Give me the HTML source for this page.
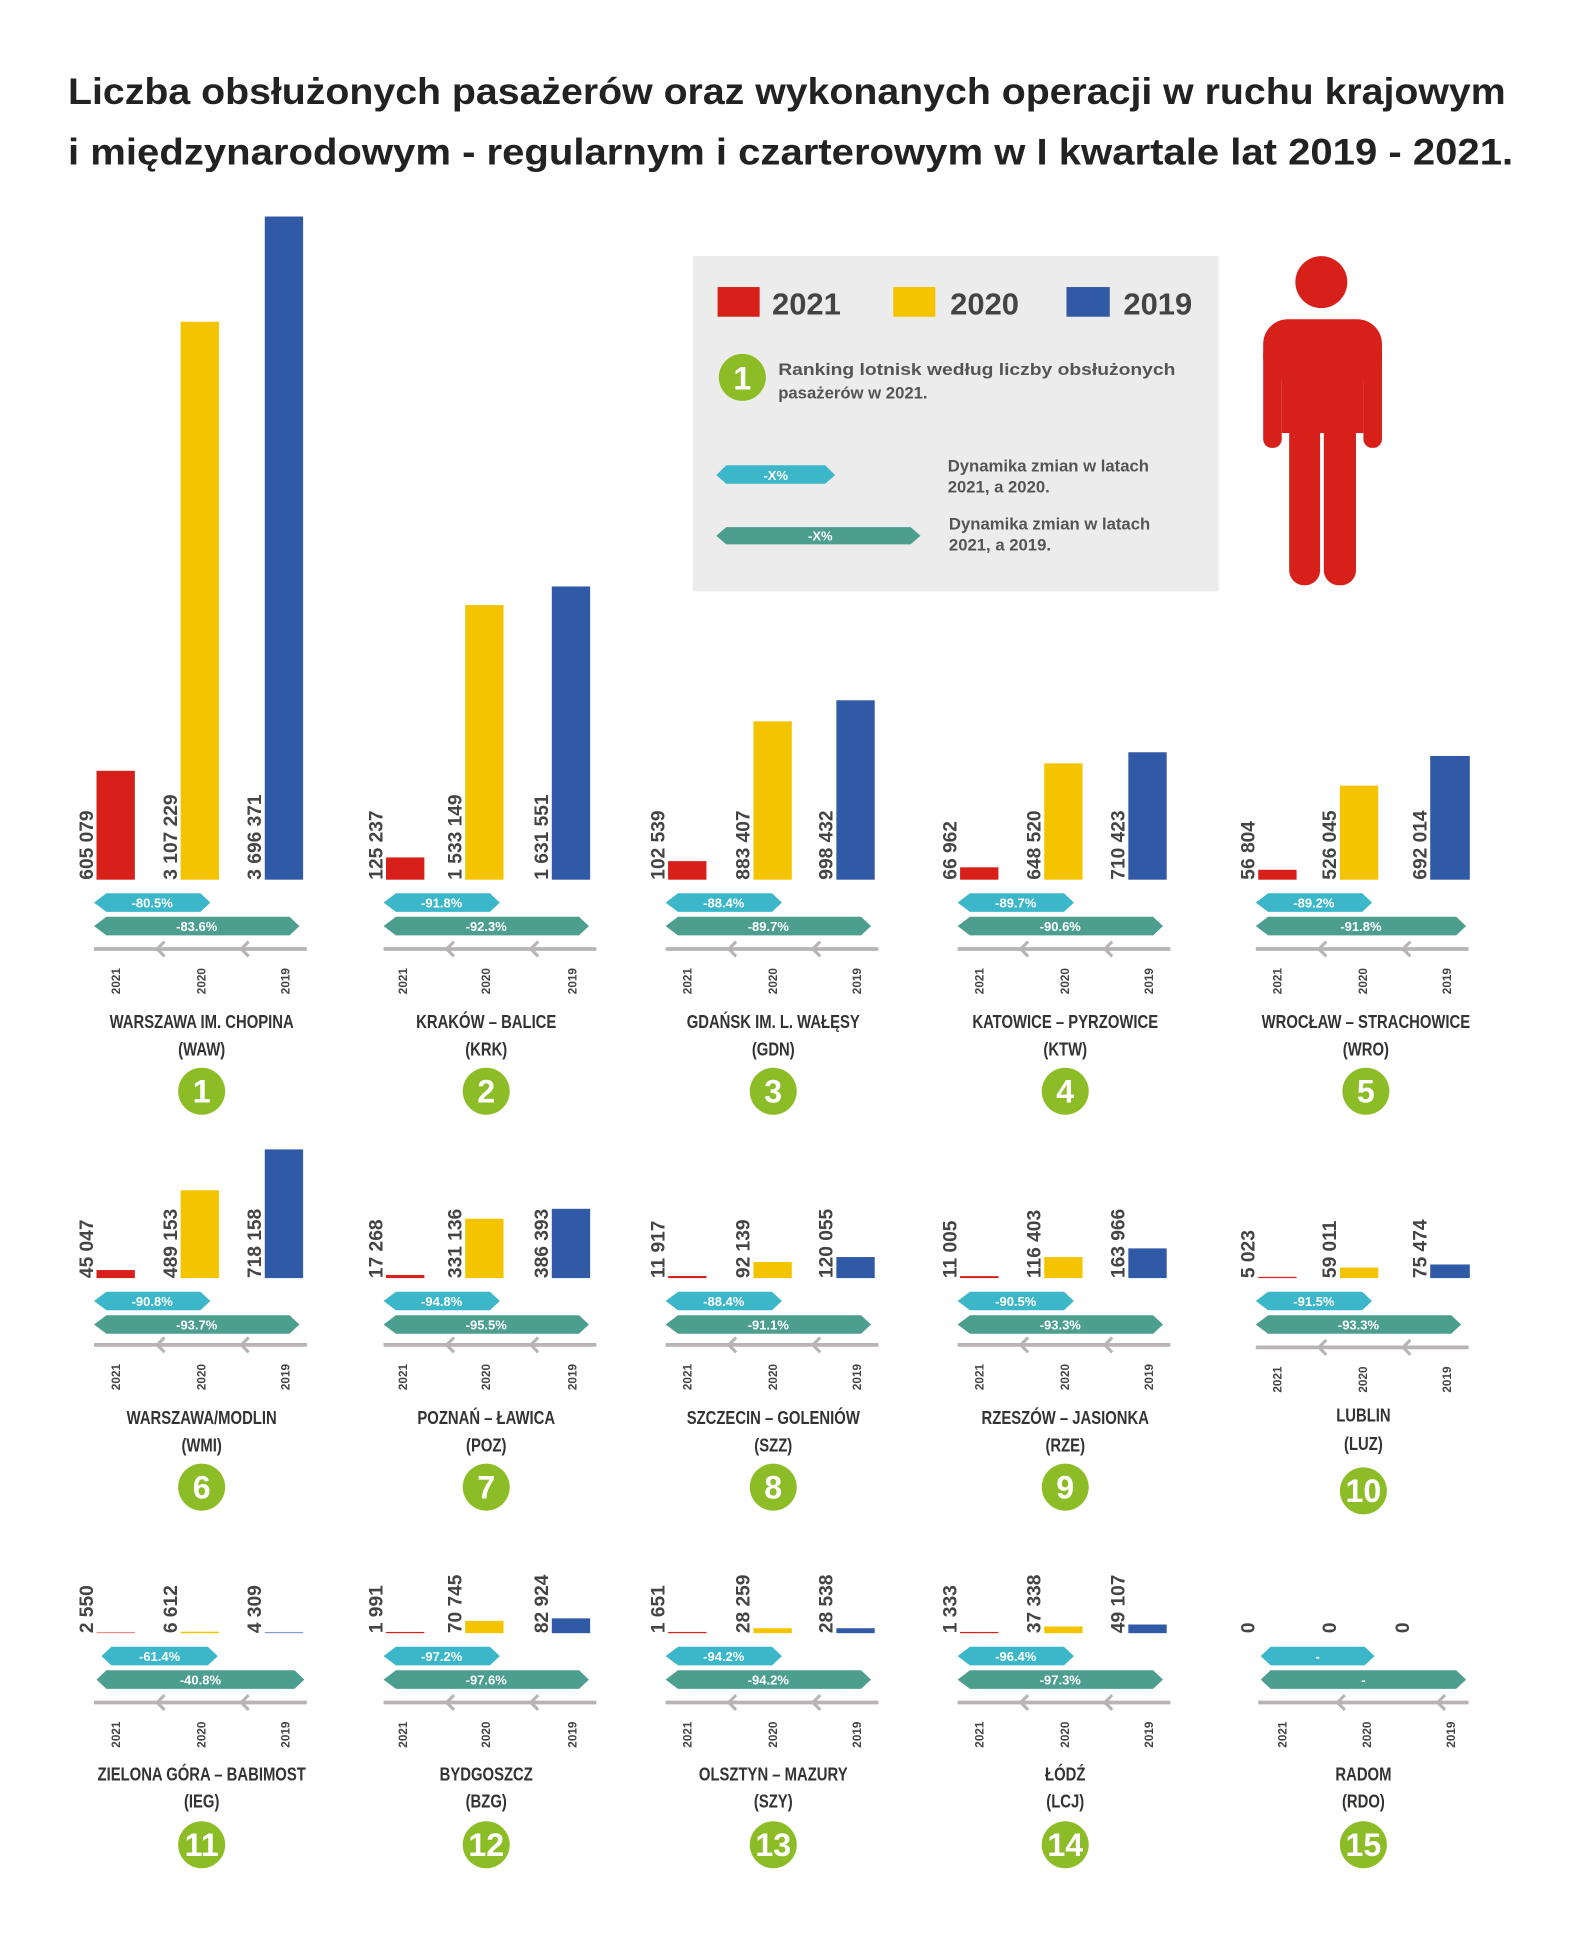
<!DOCTYPE html>
<html><head><meta charset="utf-8"><style>
html,body{margin:0;padding:0;background:#fff}
svg{display:block}
text{font-family:"Liberation Sans",sans-serif;font-weight:bold}
.v{font-size:15.5px;fill:#444}
.a{font-size:10.5px;fill:#fff;text-anchor:middle}
.y{font-size:9.5px;fill:#444;text-anchor:middle}
.n{font-size:15px;fill:#333;text-anchor:middle}
.k{font-size:26px;fill:#fff;text-anchor:middle}
.c{fill:#3bb7c9}.t{fill:#4c9e8f}
.r{fill:#d7201a}.o{fill:#f5c400}.b{fill:#3059a6}
.l{stroke:#b8b3b5;stroke-width:3;fill:none}
.h{stroke:#b8b3b5;stroke-width:2.5;fill:none}
.g{fill:#8cbd26}
</style></head><body>
<svg width="1596" height="1942" viewBox="0 0 1290 1569.6" preserveAspectRatio="none" xmlns="http://www.w3.org/2000/svg">
<text x="55" y="84" font-size="30" fill="#222" textLength="1162" lengthAdjust="spacingAndGlyphs">Liczba obsłużonych pasażerów oraz wykonanych operacji w ruchu krajowym</text>
<text x="55" y="133" font-size="30" fill="#222" textLength="1168" lengthAdjust="spacingAndGlyphs">i międzynarodowym - regularnym i czarterowym w I kwartale lat 2019 - 2021.</text>

<!-- legend -->
<rect x="560" y="207" width="425" height="271" fill="#ececec"/>
<rect x="580" y="232" width="34" height="24" class="r"/><text x="624" y="254" font-size="25" fill="#444">2021</text>
<rect x="722" y="232" width="34" height="24" class="o"/><text x="768" y="254" font-size="25" fill="#444">2020</text>
<rect x="862" y="232" width="35" height="24" class="b"/><text x="908" y="254" font-size="25" fill="#444">2019</text>
<circle cx="600" cy="305" r="19" class="g"/><text x="600" y="315" class="k">1</text>
<text x="629" y="303" font-size="13.5" fill="#555" textLength="321" lengthAdjust="spacingAndGlyphs">Ranking lotnisk według liczby obsłużonych</text>
<text x="629" y="322" font-size="13.5" fill="#555">pasażerów w 2021.</text>
<polygon class="c" points="579,384 587,376 667,376 675,384 667,391 587,391"/><text class="a" x="627" y="388">-X%</text>
<polygon class="t" points="579,433 587,426 736,426 744,433 736,440 587,440"/><text class="a" x="663" y="437">-X%</text>
<text x="766" y="381" font-size="13.5" fill="#555">Dynamika zmian w latach</text>
<text x="766" y="398" font-size="13.5" fill="#555">2021, a 2020.</text>
<text x="767" y="428" font-size="13.5" fill="#555">Dynamika zmian w latach</text>
<text x="767" y="445" font-size="13.5" fill="#555">2021, a 2019.</text>

<!-- person -->
<g class="r">
<circle cx="1068" cy="228" r="21"/>
<rect x="1021" y="258" width="96" height="50" rx="20"/>
<rect x="1021" y="280" width="15" height="82" rx="7"/>
<rect x="1102" y="280" width="15" height="82" rx="7"/>
<rect x="1036" y="280" width="66" height="70"/>
<rect x="1042" y="320" width="25" height="153" rx="12"/>
<rect x="1070" y="320" width="26" height="153" rx="12"/>
</g>

<!-- ROW 1 -->
<g transform="translate(78,711)">
<rect x="0" y="-88" width="31" height="88" class="r"/><rect x="68" y="-451" width="31" height="451" class="o"/><rect x="136" y="-536" width="31" height="536" class="b"/>
<text class="v" transform="translate(-3,0) rotate(-90)">605 079</text><text class="v" transform="translate(65,0) rotate(-90)">3 107 229</text><text class="v" transform="translate(133,0) rotate(-90)">3 696 371</text>
<polygon class="c" points="-2,18.5 8,11 84,11 92,18.5 84,26 8,26"/><text class="a" x="45" y="22.5">-80.5%</text>
<polygon class="t" points="-2,37.5 8,30 156,30 164,37.5 156,45 8,45"/><text class="a" x="81" y="41.5">-83.6%</text>
<line class="l" x1="-2" y1="56" x2="170" y2="56"/><polyline class="h" points="55,50 49,56 55,62"/><polyline class="h" points="123,50 117,56 123,62"/>
<text class="y" transform="translate(19,82) rotate(-90)">2021</text><text class="y" transform="translate(88,82) rotate(-90)">2020</text><text class="y" transform="translate(156,82) rotate(-90)">2019</text>
<text class="n" transform="translate(85,120) scale(0.8,1)">WARSZAWA IM. CHOPINA</text><text class="n" transform="translate(85,142) scale(0.8,1)">(WAW)</text>
<circle cx="85" cy="171" r="19" class="g"/><text class="k" x="85" y="180">1</text>
</g>
<g transform="translate(312,711)">
<rect x="0" y="-18" width="31" height="18" class="r"/><rect x="64" y="-222" width="31" height="222" class="o"/><rect x="134" y="-237" width="31" height="237" class="b"/>
<text class="v" transform="translate(-3,0) rotate(-90)">125 237</text><text class="v" transform="translate(61,0) rotate(-90)">1 533 149</text><text class="v" transform="translate(131,0) rotate(-90)">1 631 551</text>
<polygon class="c" points="-2,18.5 8,11 84,11 92,18.5 84,26 8,26"/><text class="a" x="45" y="22.5">-91.8%</text>
<polygon class="t" points="-2,37.5 8,30 156,30 164,37.5 156,45 8,45"/><text class="a" x="81" y="41.5">-92.3%</text>
<line class="l" x1="-2" y1="56" x2="170" y2="56"/><polyline class="h" points="55,50 49,56 55,62"/><polyline class="h" points="123,50 117,56 123,62"/>
<text class="y" transform="translate(17,82) rotate(-90)">2021</text><text class="y" transform="translate(84,82) rotate(-90)">2020</text><text class="y" transform="translate(154,82) rotate(-90)">2019</text>
<text class="n" transform="translate(81,120) scale(0.8,1)">KRAKÓW – BALICE</text><text class="n" transform="translate(81,142) scale(0.8,1)">(KRK)</text>
<circle cx="81" cy="171" r="19" class="g"/><text class="k" x="81" y="180">2</text>
</g>
<g transform="translate(540,711)">
<rect x="0" y="-15" width="31" height="15" class="r"/><rect x="69" y="-128" width="31" height="128" class="o"/><rect x="136" y="-145" width="31" height="145" class="b"/>
<text class="v" transform="translate(-3,0) rotate(-90)">102 539</text><text class="v" transform="translate(66,0) rotate(-90)">883 407</text><text class="v" transform="translate(133,0) rotate(-90)">998 432</text>
<polygon class="c" points="-2,18.5 8,11 84,11 92,18.5 84,26 8,26"/><text class="a" x="45" y="22.5">-88.4%</text>
<polygon class="t" points="-2,37.5 8,30 156,30 164,37.5 156,45 8,45"/><text class="a" x="81" y="41.5">-89.7%</text>
<line class="l" x1="-2" y1="56" x2="170" y2="56"/><polyline class="h" points="55,50 49,56 55,62"/><polyline class="h" points="123,50 117,56 123,62"/>
<text class="y" transform="translate(19,82) rotate(-90)">2021</text><text class="y" transform="translate(88,82) rotate(-90)">2020</text><text class="y" transform="translate(156,82) rotate(-90)">2019</text>
<text class="n" transform="translate(85,120) scale(0.8,1)">GDAŃSK IM. L. WAŁĘSY</text><text class="n" transform="translate(85,142) scale(0.8,1)">(GDN)</text>
<circle cx="85" cy="171" r="19" class="g"/><text class="k" x="85" y="180">3</text>
</g>
<g transform="translate(776,711)">
<rect x="0" y="-10" width="31" height="10" class="r"/><rect x="68" y="-94" width="31" height="94" class="o"/><rect x="136" y="-103" width="31" height="103" class="b"/>
<text class="v" transform="translate(-3,0) rotate(-90)">66 962</text><text class="v" transform="translate(65,0) rotate(-90)">648 520</text><text class="v" transform="translate(133,0) rotate(-90)">710 423</text>
<polygon class="c" points="-2,18.5 8,11 84,11 92,18.5 84,26 8,26"/><text class="a" x="45" y="22.5">-89.7%</text>
<polygon class="t" points="-2,37.5 8,30 156,30 164,37.5 156,45 8,45"/><text class="a" x="81" y="41.5">-90.6%</text>
<line class="l" x1="-2" y1="56" x2="170" y2="56"/><polyline class="h" points="55,50 49,56 55,62"/><polyline class="h" points="123,50 117,56 123,62"/>
<text class="y" transform="translate(19,82) rotate(-90)">2021</text><text class="y" transform="translate(88,82) rotate(-90)">2020</text><text class="y" transform="translate(156,82) rotate(-90)">2019</text>
<text class="n" transform="translate(85,120) scale(0.8,1)">KATOWICE – PYRZOWICE</text><text class="n" transform="translate(85,142) scale(0.8,1)">(KTW)</text>
<circle cx="85" cy="171" r="19" class="g"/><text class="k" x="85" y="180">4</text>
</g>
<g transform="translate(1017,711)">
<rect x="0" y="-8" width="31" height="8" class="r"/><rect x="66" y="-76" width="31" height="76" class="o"/><rect x="139" y="-100" width="32" height="100" class="b"/>
<text class="v" transform="translate(-3,0) rotate(-90)">56 804</text><text class="v" transform="translate(63,0) rotate(-90)">526 045</text><text class="v" transform="translate(136,0) rotate(-90)">692 014</text>
<polygon class="c" points="-2,18.5 8,11 84,11 92,18.5 84,26 8,26"/><text class="a" x="45" y="22.5">-89.2%</text>
<polygon class="t" points="-2,37.5 8,30 160,30 168,37.5 160,45 8,45"/><text class="a" x="83" y="41.5">-91.8%</text>
<line class="l" x1="-2" y1="56" x2="170" y2="56"/><polyline class="h" points="55,50 49,56 55,62"/><polyline class="h" points="123,50 117,56 123,62"/>
<text class="y" transform="translate(19,82) rotate(-90)">2021</text><text class="y" transform="translate(88,82) rotate(-90)">2020</text><text class="y" transform="translate(156,82) rotate(-90)">2019</text>
<text class="n" transform="translate(87,120) scale(0.8,1)">WROCŁAW – STRACHOWICE</text><text class="n" transform="translate(87,142) scale(0.8,1)">(WRO)</text>
<circle cx="87" cy="171" r="19" class="g"/><text class="k" x="87" y="180">5</text>
</g>

<!-- ROW 2 -->
<g transform="translate(78,1033)">
<rect x="0" y="-6.5" width="31" height="6.5" class="r"/><rect x="68" y="-71" width="31" height="71" class="o"/><rect x="136" y="-104" width="31" height="104" class="b"/>
<text class="v" transform="translate(-3,0) rotate(-90)">45 047</text><text class="v" transform="translate(65,0) rotate(-90)">489 153</text><text class="v" transform="translate(133,0) rotate(-90)">718 158</text>
<polygon class="c" points="-2,18.5 8,11 84,11 92,18.5 84,26 8,26"/><text class="a" x="45" y="22.5">-90.8%</text>
<polygon class="t" points="-2,37.5 8,30 156,30 164,37.5 156,45 8,45"/><text class="a" x="81" y="41.5">-93.7%</text>
<line class="l" x1="-2" y1="54" x2="170" y2="54"/><polyline class="h" points="55,48 49,54 55,60"/><polyline class="h" points="123,48 117,54 123,60"/>
<text class="y" transform="translate(19,80) rotate(-90)">2021</text><text class="y" transform="translate(88,80) rotate(-90)">2020</text><text class="y" transform="translate(156,80) rotate(-90)">2019</text>
<text class="n" transform="translate(85,118) scale(0.8,1)">WARSZAWA/MODLIN</text><text class="n" transform="translate(85,140) scale(0.8,1)">(WMI)</text>
<circle cx="85" cy="169" r="19" class="g"/><text class="k" x="85" y="178">6</text>
</g>
<g transform="translate(312,1033)">
<rect x="0" y="-2.5" width="31" height="2.5" class="r"/><rect x="64" y="-48" width="31" height="48" class="o"/><rect x="134" y="-56" width="31" height="56" class="b"/>
<text class="v" transform="translate(-3,0) rotate(-90)">17 268</text><text class="v" transform="translate(61,0) rotate(-90)">331 136</text><text class="v" transform="translate(131,0) rotate(-90)">386 393</text>
<polygon class="c" points="-2,18.5 8,11 84,11 92,18.5 84,26 8,26"/><text class="a" x="45" y="22.5">-94.8%</text>
<polygon class="t" points="-2,37.5 8,30 156,30 164,37.5 156,45 8,45"/><text class="a" x="81" y="41.5">-95.5%</text>
<line class="l" x1="-2" y1="54" x2="170" y2="54"/><polyline class="h" points="55,48 49,54 55,60"/><polyline class="h" points="123,48 117,54 123,60"/>
<text class="y" transform="translate(17,80) rotate(-90)">2021</text><text class="y" transform="translate(84,80) rotate(-90)">2020</text><text class="y" transform="translate(154,80) rotate(-90)">2019</text>
<text class="n" transform="translate(81,118) scale(0.8,1)">POZNAŃ – ŁAWICA</text><text class="n" transform="translate(81,140) scale(0.8,1)">(POZ)</text>
<circle cx="81" cy="169" r="19" class="g"/><text class="k" x="81" y="178">7</text>
</g>
<g transform="translate(540,1033)">
<rect x="0" y="-1.7" width="31" height="1.7" class="r"/><rect x="69" y="-13" width="31" height="13" class="o"/><rect x="136" y="-17" width="31" height="17" class="b"/>
<text class="v" transform="translate(-3,0) rotate(-90)">11 917</text><text class="v" transform="translate(66,0) rotate(-90)">92 139</text><text class="v" transform="translate(133,0) rotate(-90)">120 055</text>
<polygon class="c" points="-2,18.5 8,11 84,11 92,18.5 84,26 8,26"/><text class="a" x="45" y="22.5">-88.4%</text>
<polygon class="t" points="-2,37.5 8,30 156,30 164,37.5 156,45 8,45"/><text class="a" x="81" y="41.5">-91.1%</text>
<line class="l" x1="-2" y1="54" x2="170" y2="54"/><polyline class="h" points="55,48 49,54 55,60"/><polyline class="h" points="123,48 117,54 123,60"/>
<text class="y" transform="translate(19,80) rotate(-90)">2021</text><text class="y" transform="translate(88,80) rotate(-90)">2020</text><text class="y" transform="translate(156,80) rotate(-90)">2019</text>
<text class="n" transform="translate(85,118) scale(0.8,1)">SZCZECIN – GOLENIÓW</text><text class="n" transform="translate(85,140) scale(0.8,1)">(SZZ)</text>
<circle cx="85" cy="169" r="19" class="g"/><text class="k" x="85" y="178">8</text>
</g>
<g transform="translate(776,1033)">
<rect x="0" y="-1.6" width="31" height="1.6" class="r"/><rect x="68" y="-17" width="31" height="17" class="o"/><rect x="136" y="-24" width="31" height="24" class="b"/>
<text class="v" transform="translate(-3,0) rotate(-90)">11 005</text><text class="v" transform="translate(65,0) rotate(-90)">116 403</text><text class="v" transform="translate(133,0) rotate(-90)">163 966</text>
<polygon class="c" points="-2,18.5 8,11 84,11 92,18.5 84,26 8,26"/><text class="a" x="45" y="22.5">-90.5%</text>
<polygon class="t" points="-2,37.5 8,30 156,30 164,37.5 156,45 8,45"/><text class="a" x="81" y="41.5">-93.3%</text>
<line class="l" x1="-2" y1="54" x2="170" y2="54"/><polyline class="h" points="55,48 49,54 55,60"/><polyline class="h" points="123,48 117,54 123,60"/>
<text class="y" transform="translate(19,80) rotate(-90)">2021</text><text class="y" transform="translate(88,80) rotate(-90)">2020</text><text class="y" transform="translate(156,80) rotate(-90)">2019</text>
<text class="n" transform="translate(85,118) scale(0.8,1)">RZESZÓW – JASIONKA</text><text class="n" transform="translate(85,140) scale(0.8,1)">(RZE)</text>
<circle cx="85" cy="169" r="19" class="g"/><text class="k" x="85" y="178">9</text>
</g>
<g transform="translate(1017,1033)">
<rect x="0" y="-1" width="31" height="1" class="r"/><rect x="66" y="-8.5" width="31" height="8.5" class="o"/><rect x="139" y="-11" width="32" height="11" class="b"/>
<text class="v" transform="translate(-3,0) rotate(-90)">5 023</text><text class="v" transform="translate(63,0) rotate(-90)">59 011</text><text class="v" transform="translate(136,0) rotate(-90)">75 474</text>
<polygon class="c" points="-2,18.5 8,11 84,11 92,18.5 84,26 8,26"/><text class="a" x="45" y="22.5">-91.5%</text>
<polygon class="t" points="-2,37.5 8,30 156,30 164,37.5 156,45 8,45"/><text class="a" x="81" y="41.5">-93.3%</text>
<line class="l" x1="-2" y1="56" x2="170" y2="56"/><polyline class="h" points="55,50 49,56 55,62"/><polyline class="h" points="123,50 117,56 123,62"/>
<text class="y" transform="translate(19,82) rotate(-90)">2021</text><text class="y" transform="translate(88,82) rotate(-90)">2020</text><text class="y" transform="translate(156,82) rotate(-90)">2019</text>
<text class="n" transform="translate(85,116) scale(0.8,1)">LUBLIN</text><text class="n" transform="translate(85,139) scale(0.8,1)">(LUZ)</text>
<circle cx="85" cy="172" r="19" class="g"/><text class="k" x="85" y="181">10</text>
</g>

<!-- ROW 3 -->
<g transform="translate(78,1320)">
<rect x="0" y="-1" width="31" height="1" class="r" opacity="0.5"/><rect x="68" y="-1.2" width="31" height="1.2" class="o"/><rect x="136" y="-1" width="31" height="1" class="b" opacity="0.6"/>
<text class="v" transform="translate(-3,0) rotate(-90)">2 550</text><text class="v" transform="translate(65,0) rotate(-90)">6 612</text><text class="v" transform="translate(133,0) rotate(-90)">4 309</text>
<polygon class="c" points="4,18.5 12,11 90,11 98,18.5 90,26 12,26"/><text class="a" x="51" y="22.5">-61.4%</text>
<polygon class="t" points="0,37.5 8,30 160,30 168,37.5 160,45 8,45"/><text class="a" x="84" y="41.5">-40.8%</text>
<line class="l" x1="-2" y1="56" x2="170" y2="56"/><polyline class="h" points="55,50 49,56 55,62"/><polyline class="h" points="123,50 117,56 123,62"/>
<text class="y" transform="translate(19,82) rotate(-90)">2021</text><text class="y" transform="translate(88,82) rotate(-90)">2020</text><text class="y" transform="translate(156,82) rotate(-90)">2019</text>
<text class="n" transform="translate(85,119) scale(0.8,1)">ZIELONA GÓRA – BABIMOST</text><text class="n" transform="translate(85,141) scale(0.8,1)">(IEG)</text>
<circle cx="85" cy="171" r="19" class="g"/><text class="k" x="85" y="180">11</text>
</g>
<g transform="translate(312,1320)">
<rect x="0" y="-1" width="31" height="1" class="r"/><rect x="64" y="-10" width="31" height="10" class="o"/><rect x="134" y="-12" width="31" height="12" class="b"/>
<text class="v" transform="translate(-3,0) rotate(-90)">1 991</text><text class="v" transform="translate(61,0) rotate(-90)">70 745</text><text class="v" transform="translate(131,0) rotate(-90)">82 924</text>
<polygon class="c" points="-2,18.5 8,11 84,11 92,18.5 84,26 8,26"/><text class="a" x="45" y="22.5">-97.2%</text>
<polygon class="t" points="-2,37.5 8,30 156,30 164,37.5 156,45 8,45"/><text class="a" x="81" y="41.5">-97.6%</text>
<line class="l" x1="-2" y1="56" x2="170" y2="56"/><polyline class="h" points="55,50 49,56 55,62"/><polyline class="h" points="123,50 117,56 123,62"/>
<text class="y" transform="translate(17,82) rotate(-90)">2021</text><text class="y" transform="translate(84,82) rotate(-90)">2020</text><text class="y" transform="translate(154,82) rotate(-90)">2019</text>
<text class="n" transform="translate(81,119) scale(0.8,1)">BYDGOSZCZ</text><text class="n" transform="translate(81,141) scale(0.8,1)">(BZG)</text>
<circle cx="81" cy="171" r="19" class="g"/><text class="k" x="81" y="180">12</text>
</g>
<g transform="translate(540,1320)">
<rect x="0" y="-1" width="31" height="1" class="r"/><rect x="69" y="-4" width="31" height="4" class="o"/><rect x="136" y="-4" width="31" height="4" class="b"/>
<text class="v" transform="translate(-3,0) rotate(-90)">1 651</text><text class="v" transform="translate(66,0) rotate(-90)">28 259</text><text class="v" transform="translate(133,0) rotate(-90)">28 538</text>
<polygon class="c" points="-2,18.5 8,11 84,11 92,18.5 84,26 8,26"/><text class="a" x="45" y="22.5">-94.2%</text>
<polygon class="t" points="-2,37.5 8,30 156,30 164,37.5 156,45 8,45"/><text class="a" x="81" y="41.5">-94.2%</text>
<line class="l" x1="-2" y1="56" x2="170" y2="56"/><polyline class="h" points="55,50 49,56 55,62"/><polyline class="h" points="123,50 117,56 123,62"/>
<text class="y" transform="translate(19,82) rotate(-90)">2021</text><text class="y" transform="translate(88,82) rotate(-90)">2020</text><text class="y" transform="translate(156,82) rotate(-90)">2019</text>
<text class="n" transform="translate(85,119) scale(0.8,1)">OLSZTYN – MAZURY</text><text class="n" transform="translate(85,141) scale(0.8,1)">(SZY)</text>
<circle cx="85" cy="171" r="19" class="g"/><text class="k" x="85" y="180">13</text>
</g>
<g transform="translate(776,1320)">
<rect x="0" y="-1" width="31" height="1" class="r"/><rect x="68" y="-5.4" width="31" height="5.4" class="o"/><rect x="136" y="-7" width="31" height="7" class="b"/>
<text class="v" transform="translate(-3,0) rotate(-90)">1 333</text><text class="v" transform="translate(65,0) rotate(-90)">37 338</text><text class="v" transform="translate(133,0) rotate(-90)">49 107</text>
<polygon class="c" points="-2,18.5 8,11 84,11 92,18.5 84,26 8,26"/><text class="a" x="45" y="22.5">-96.4%</text>
<polygon class="t" points="-2,37.5 8,30 156,30 164,37.5 156,45 8,45"/><text class="a" x="81" y="41.5">-97.3%</text>
<line class="l" x1="-2" y1="56" x2="170" y2="56"/><polyline class="h" points="55,50 49,56 55,62"/><polyline class="h" points="123,50 117,56 123,62"/>
<text class="y" transform="translate(19,82) rotate(-90)">2021</text><text class="y" transform="translate(88,82) rotate(-90)">2020</text><text class="y" transform="translate(156,82) rotate(-90)">2019</text>
<text class="n" transform="translate(85,119) scale(0.8,1)">ŁÓDŹ</text><text class="n" transform="translate(85,141) scale(0.8,1)">(LCJ)</text>
<circle cx="85" cy="171" r="19" class="g"/><text class="k" x="85" y="180">14</text>
</g>
<g transform="translate(1017,1320)">
<text class="v" transform="translate(-3,0) rotate(-90)">0</text><text class="v" transform="translate(63,0) rotate(-90)">0</text><text class="v" transform="translate(122,0) rotate(-90)">0</text>
<polygon class="c" points="2,18.5 10,11 86,11 94,18.5 86,26 10,26"/><text class="a" x="48" y="22.5">-</text>
<polygon class="t" points="2,37.5 10,30 160,30 168,37.5 160,45 10,45"/><text class="a" x="85" y="41.5">-</text>
<line class="l" x1="0" y1="56" x2="170" y2="56"/><polyline class="h" points="70,50 64,56 70,62"/><polyline class="h" points="151,50 145,56 151,62"/>
<text class="y" transform="translate(23,82) rotate(-90)">2021</text><text class="y" transform="translate(91,82) rotate(-90)">2020</text><text class="y" transform="translate(159,82) rotate(-90)">2019</text>
<text class="n" transform="translate(85,119) scale(0.8,1)">RADOM</text><text class="n" transform="translate(85,141) scale(0.8,1)">(RDO)</text>
<circle cx="85" cy="171" r="19" class="g"/><text class="k" x="85" y="180">15</text>
</g>
</svg>
</body></html>
